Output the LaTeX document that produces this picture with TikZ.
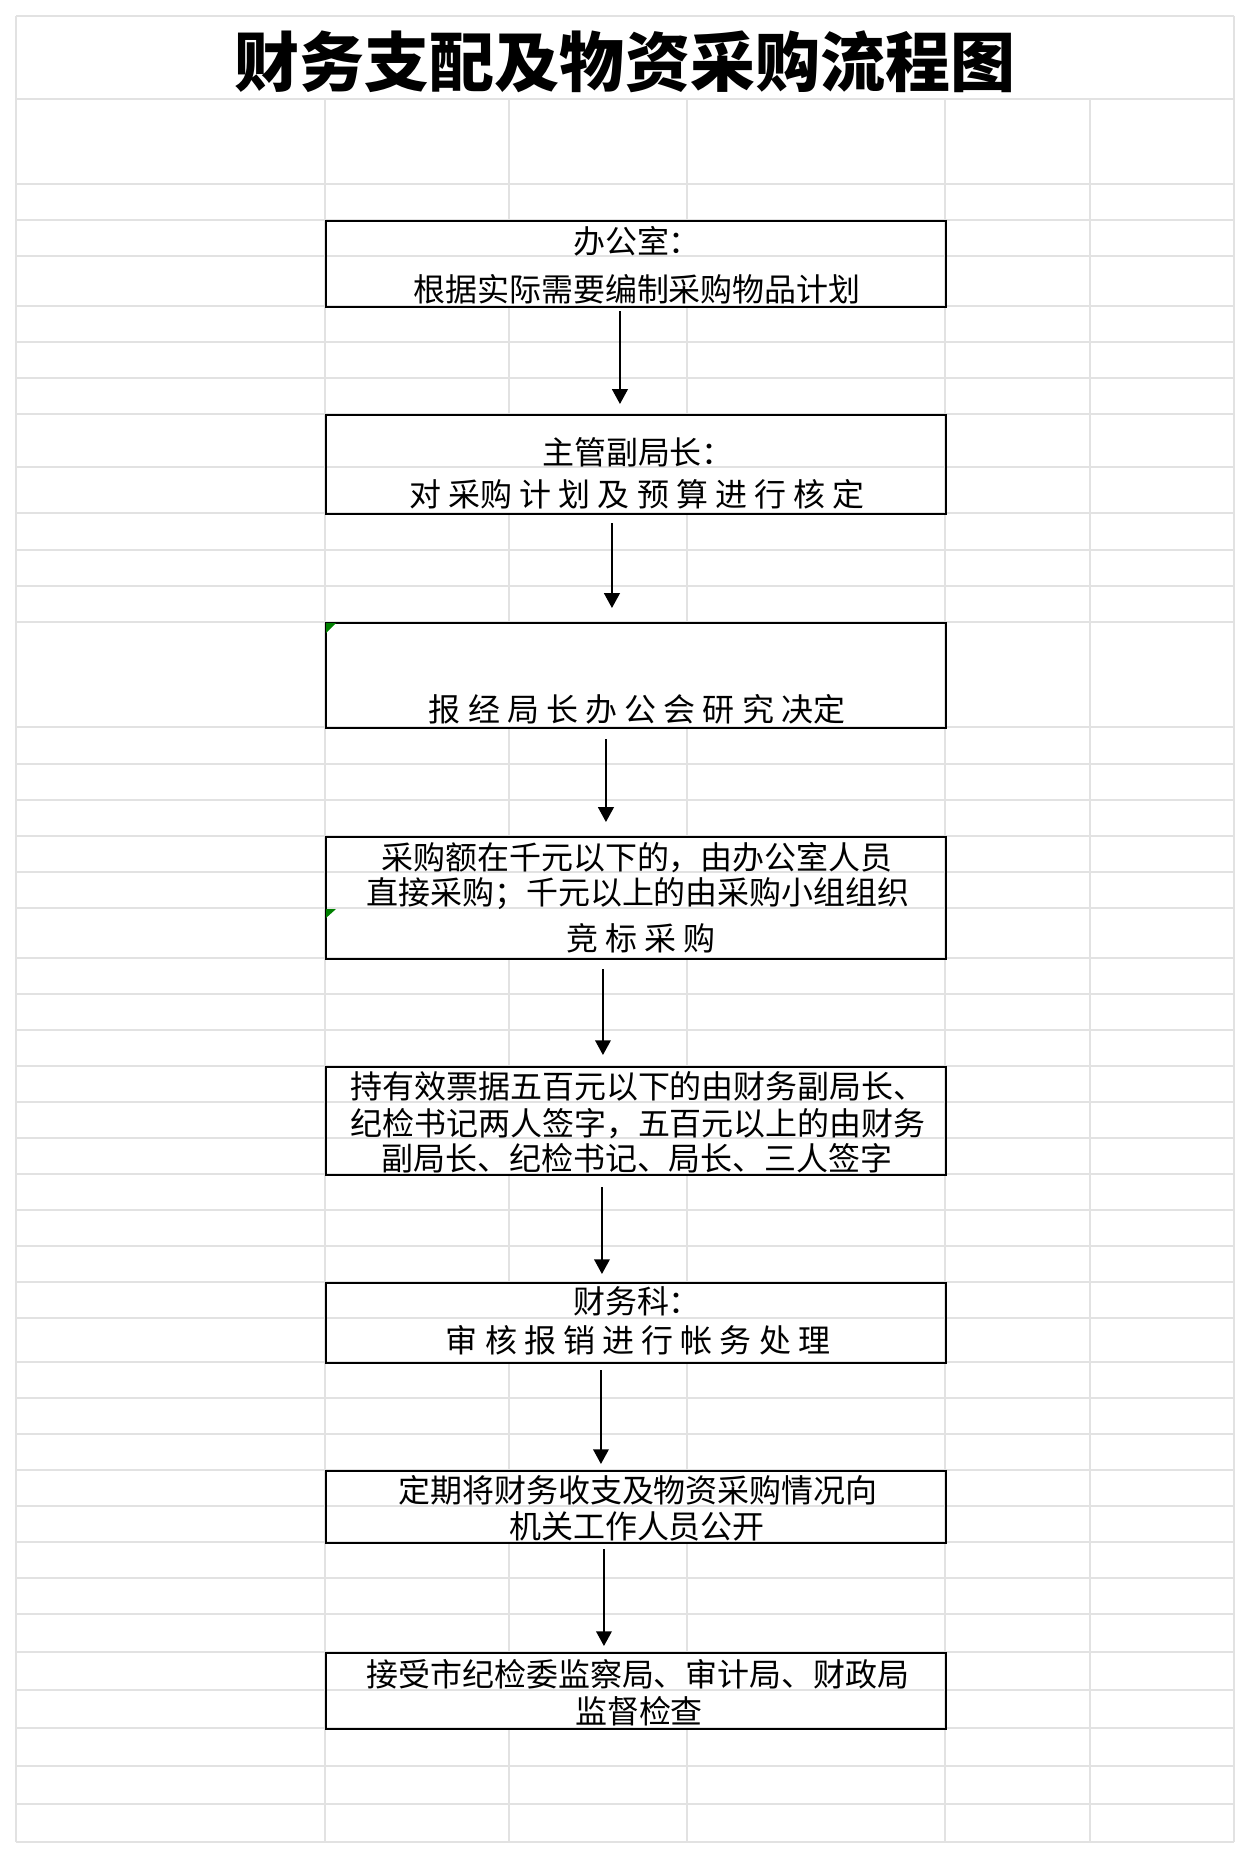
\documentclass[tikz,border=0pt]{standalone}
\usepackage{fontspec}
\setmainfont{Noto Sans CJK SC}
\usetikzlibrary{arrows.meta}

\definecolor{gridgray}{RGB}{226,226,226}
\definecolor{notegreen}{RGB}{0,128,0}

\begin{document}
\begin{tikzpicture}[
    x=0.02cm, y=-0.02cm,
    gridline/.style={draw=gridgray, line width=0.75pt},
    box/.style={draw, line width=1.15pt, inner sep=0pt, anchor=north west, minimum width=12.4cm},
    txt/.style={inner sep=0pt, text height=16pt, text depth=2.2pt, font=\fontsize{18.2pt}{22pt}\selectfont},
    flow/.style={->, line width=1pt},
    >={Triangle[width=8.9pt,length=8.4pt]}
]
    \fill[white] (0,0) rectangle (1250,1858);

    % sheet grid
    \foreach \y in {16,99,184,220,256,306,342,378,414,467,513,550,586,622,727,764,800,836,872,908,958,994,1030,1066,1102,1138,1174,1210,1246,1282,1318,1362,1398,1434,1470,1506,1542,1578,1614,1652,1690,1728,1766,1804,1842}
        \draw[gridline] (16,\y) -- (1234,\y);
    \foreach \x in {16,1234}
        \draw[gridline] (\x,16) -- (\x,1842);
    \foreach \x in {325,945,1090}
        \draw[gridline] (\x,99) -- (\x,1842);
    \foreach \x in {509,687}
        \foreach \a/\b in {99/220,306/414,513/622,727/836,958/1066,1174/1282,1362/1470,1542/1652,1728/1842}
            \draw[gridline] (\x,\a) -- (\x,\b);

    \node[inner sep=0pt, text height=32.6pt, text depth=4.4pt, font=\fontsize{37pt}{40pt}\selectfont\bfseries] (title) at (625,62) {财务支配及物资采购流程图};

    % boxes
    \node[box, minimum height=1.72cm] (b1) at (325,220) {};
    \node[box, minimum height=1.98cm] (b2) at (325,414) {};
    \node[box, minimum height=2.10cm] (b3) at (325,622) {};
    \node[box, minimum height=2.44cm] (b4) at (325,836) {};
    \node[box, minimum height=2.16cm] (b5) at (325,1066) {};
    \node[box, minimum height=1.60cm] (b6) at (325,1282) {};
    \node[box, minimum height=1.44cm] (b7) at (325,1470) {};
    \node[box, minimum height=1.52cm] (b8) at (325,1652) {};

    \fill[notegreen] (326,623) -- (336,623) -- (326,633) -- cycle;
    \fill[notegreen] (326,909) -- (336,909) -- (326,918) -- cycle;

    % texts
    \node[txt] (t1a) at (637,241) {办公室：};
    \node[txt] (t1b) at (637,289) {根据实际需要编制采购物品计划};
    \node[txt] (t2a) at (638,452) {主管副局长：};
    \node[txt] (t2b) at (637,494) {对 采购 计 划 及 预 算 进 行 核 定};
    \node[txt] (t3)  at (637,709) {报 经 局 长 办 公 会 研 究 决定};
    \node[txt] (t4a) at (637,857) {采购额在千元以下的，由办公室人员};
    \node[txt] (t4b) at (638,892) {直接采购；千元以上的由采购小组组织};
    \node[txt] (t4c) at (641,938) {竞 标 采 购};
    \node[txt] (t5a) at (638,1086) {持有效票据五百元以下的由财务副局长、};
    \node[txt] (t5b) at (638,1123) {纪检书记两人签字，五百元以上的由财务};
    \node[txt] (t5c) at (637,1158) {副局长、纪检书记、局长、三人签字};
    \node[txt] (t6a) at (637,1301) {财务科：};
    \node[txt] (t6b) at (638,1340) {审 核 报 销 进 行 帐 务 处 理};
    \node[txt] (t7a) at (638,1490) {定期将财务收支及物资采购情况向};
    \node[txt] (t7b) at (637,1526) {机关工作人员公开};
    \node[txt] (t8a) at (638,1674) {接受市纪检委监察局、审计局、财政局};
    \node[txt] (t8b) at (639,1711) {监督检查};

    % arrows
    \draw[flow] ([shift={(-16,3)}]b1.south) -- ([shift={(-16,-10)}]b2.north);
    \draw[flow] ([shift={(-24,8)}]b2.south) -- ([shift={(-24,-14)}]b3.north);
    \draw[flow] ([shift={(-30,10)}]b3.south) -- ([shift={(-30,-14)}]b4.north);
    \draw[flow] ([shift={(-33,9)}]b4.south) -- ([shift={(-33,-11)}]b5.north);
    \draw[flow] ([shift={(-34,11)}]b5.south) -- ([shift={(-34,-8)}]b6.north);
    \draw[flow] ([shift={(-35,6)}]b6.south) -- ([shift={(-35,-6)}]b7.north);
    \draw[flow] ([shift={(-32,5)}]b7.south) -- ([shift={(-32,-6)}]b8.north);
\end{tikzpicture}
\end{document}
